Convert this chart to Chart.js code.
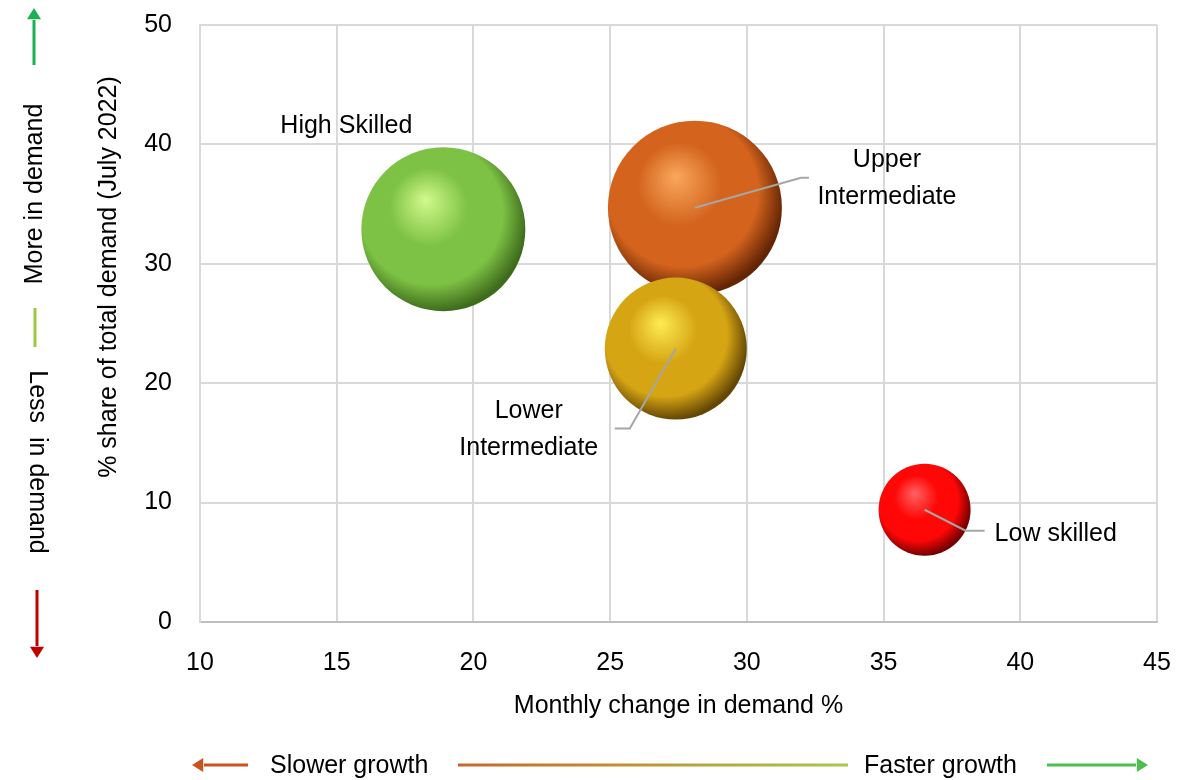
<!DOCTYPE html>
<html>
<head>
<meta charset="utf-8">
<script src="https://cdn.jsdelivr.net/npm/chart.js@4.4.1/dist/chart.umd.min.js"></script>
<style>
  body { margin: 0; background: #fff; }
  #wrap { width: 1191px; height: 780px; }
</style>
</head>
<body>
<div id="wrap"><canvas id="skillsChart" width="1191" height="780"></canvas></div>
<script>
// skill groups and their values
const skillGroups = ['High Skilled', 'Upper Intermediate', 'Lower Intermediate', 'Low skilled'];
const demandChange = [18.9, 28.1, 27.4, 36.5];   // x: monthly change in demand %
const demandShare = [32.9, 34.7, 22.9, 9.4];     // y: % share of total demand (July 2022)
const bubbleSize = [82, 87, 71, 46];             // bubble radius

const xTicks = [10, 15, 20, 25, 30, 35, 40, 45];
const yTicks = [0, 10, 20, 30, 40, 50];

const FONT = "'Liberation Sans', Arial, sans-serif";
const FSIZE = 25;

// [highlight, base, shadow]
const sphereColors = [
    ['#d2f98c', '#7dc244', '#3f6c1c'],
    ['#f9a85c', '#d4641d', '#642505'],
    ['#ffec52', '#d6a514', '#644705'],
    ['#ff6262', '#ff0707', '#740000']
];

// label placement relative to each bubble centre (px)
const labelLayout = [
    { lines: ['High Skilled'], x: -97, y: -103, align: 'center', leader: [] },
    { lines: ['Upper', 'Intermediate'], x: 192, y: -48, align: 'center', leader: [[106, -30], [114, -30]] },
    { lines: ['Lower', 'Intermediate'], x: -147, y: 63, align: 'center', leader: [[-46, 80], [-61, 80]] },
    { lines: ['Low skilled'], x: 70, y: 24, align: 'left', leader: [[41, 21], [60, 21]] }
];

function sphereFill(context) {
    const chart = context.chart;
    const i = context.dataIndex;
    const pal = sphereColors[i];
    if (context.type !== 'data' || !chart.chartArea) return pal[1];
    const cx = chart.scales.x.getPixelForValue(demandChange[i]);
    const cy = chart.scales.y.getPixelForValue(demandShare[i]);
    const r = bubbleSize[i];
    const g = chart.ctx.createRadialGradient(cx - r * 0.22, cy - r * 0.36, 0, cx - r * 0.12, cy - r * 0.14, r * 1.14);
    g.addColorStop(0, pal[0]);
    g.addColorStop(0.42, pal[1]);
    g.addColorStop(0.76, pal[1]);
    g.addColorStop(1, pal[2]);
    return g;
}

function arrowHead(ctx, x, y, dir, size, color) {
    ctx.save();
    ctx.fillStyle = color;
    ctx.translate(x, y);
    ctx.rotate(dir);
    ctx.beginPath();
    ctx.moveTo(0, 0);
    ctx.lineTo(-size * 1.6, -size);
    ctx.lineTo(-size * 1.6, size);
    ctx.closePath();
    ctx.fill();
    ctx.restore();
}

const annotations = {
    id: 'annotations',
    afterDatasetsDraw(chart) {
        const ctx = chart.ctx;
        const xs = chart.scales.x, ys = chart.scales.y;
        ctx.save();
        ctx.font = FSIZE + 'px ' + FONT;
        ctx.fillStyle = '#000';
        ctx.textBaseline = 'middle';
        skillGroups.forEach((name, i) => {
            const cx = xs.getPixelForValue(demandChange[i]);
            const cy = ys.getPixelForValue(demandShare[i]);
            const lay = labelLayout[i];
            if (lay.leader.length) {
                ctx.strokeStyle = '#a6a6a6';
                ctx.lineWidth = 2;
                ctx.beginPath();
                ctx.moveTo(cx, cy);
                lay.leader.forEach(p => ctx.lineTo(cx + p[0], cy + p[1]));
                ctx.stroke();
            }
            ctx.textAlign = lay.align;
            lay.lines.forEach((t, k) => {
                ctx.fillText(t, cx + lay.x, cy + lay.y + k * 37);
            });
        });
        ctx.restore();
    },
    afterDraw(chart) {
        const ctx = chart.ctx;
        ctx.save();
        ctx.font = FSIZE + 'px ' + FONT;
        ctx.fillStyle = '#000';
        ctx.textBaseline = 'middle';
        ctx.textAlign = 'center';

        // y axis title
        ctx.save();
        ctx.translate(109, 277);
        ctx.rotate(-Math.PI / 2);
        ctx.fillText('% share of total demand (July 2022)', 0, 0);
        ctx.restore();

        // left side: more / less in demand
        ctx.save();
        ctx.translate(35, 194);
        ctx.rotate(-Math.PI / 2);
        ctx.fillText('More in demand', 0, 0);
        ctx.restore();
        ctx.save();
        ctx.translate(37, 462);
        ctx.rotate(Math.PI / 2);
        ctx.fillText('Less  in demand', 0, 0);
        ctx.restore();

        ctx.lineWidth = 3;
        ctx.strokeStyle = '#1db050';
        ctx.beginPath(); ctx.moveTo(34, 65); ctx.lineTo(34, 20); ctx.stroke();
        arrowHead(ctx, 34, 8, -Math.PI / 2, 7, '#1db050');
        ctx.strokeStyle = '#9cc843';
        ctx.beginPath(); ctx.moveTo(35, 308); ctx.lineTo(35, 347); ctx.stroke();
        ctx.strokeStyle = '#c00000';
        ctx.beginPath(); ctx.moveTo(37, 590); ctx.lineTo(37, 646); ctx.stroke();
        arrowHead(ctx, 37, 658, Math.PI / 2, 7, '#c00000');

        // bottom: slower / faster growth
        const by = 765;
        ctx.strokeStyle = '#c9521f';
        ctx.beginPath(); ctx.moveTo(248, by); ctx.lineTo(204, by); ctx.stroke();
        arrowHead(ctx, 192, by, Math.PI, 7, '#c9521f');
        const lg = ctx.createLinearGradient(458, 0, 848, 0);
        lg.addColorStop(0, '#c9652a');
        lg.addColorStop(0.5, '#bb9a34');
        lg.addColorStop(1, '#a8c84c');
        ctx.strokeStyle = lg;
        ctx.beginPath(); ctx.moveTo(458, by); ctx.lineTo(848, by); ctx.stroke();
        ctx.strokeStyle = '#4fbe4f';
        ctx.beginPath(); ctx.moveTo(1047, by); ctx.lineTo(1136, by); ctx.stroke();
        arrowHead(ctx, 1148, by, 0, 7, '#4fbe4f');

        ctx.textAlign = 'left';
        ctx.fillText('Slower growth', 270, by + 1);
        ctx.fillText('Faster growth', 864, by + 1);
        ctx.restore();
    }
};

const ctx = document.getElementById('skillsChart').getContext('2d');
new Chart(ctx, {
    type: 'bubble',
    data: {
        datasets: [{
            label: 'Skill demand',
            data: skillGroups.map((g, i) => ({ x: demandChange[i], y: demandShare[i], r: bubbleSize[i] })),
            backgroundColor: sphereFill,
            borderWidth: 0,
            hoverBorderWidth: 0
        }]
    },
    options: {
        responsive: false,
        animation: false,
        clip: false,
        layout: { autoPadding: false, padding: { left: 0, top: 25, right: 34, bottom: 0 } },
        plugins: { legend: { display: false }, tooltip: { enabled: false } },
        scales: {
            x: {
                type: 'linear',
                min: 10, max: 45,
                afterBuildTicks: s => { s.ticks = xTicks.map(v => ({ value: v })); },
                afterFit: s => { s.height = 158; s.paddingLeft = 0; s.paddingRight = 0; },
                grid: { color: '#d9d9d9', lineWidth: 2, drawTicks: false },
                border: { color: '#bfbfbf', width: 2 },
                ticks: { font: { family: FONT, size: FSIZE }, color: '#000', padding: 26 },
                title: {
                    display: true,
                    text: 'Monthly change in demand %',
                    font: { family: FONT, size: FSIZE },
                    color: '#000',
                    padding: { top: 0, bottom: 59 }
                }
            },
            y: {
                type: 'linear',
                min: 0, max: 50,
                afterBuildTicks: s => { s.ticks = yTicks.map(v => ({ value: v })); },
                afterFit: s => { s.width = 200; s.paddingTop = 0; s.paddingBottom = 0; },
                grid: { color: '#d9d9d9', lineWidth: 2, drawTicks: false },
                border: { color: '#d9d9d9', width: 2 },
                ticks: { font: { family: FONT, size: FSIZE }, color: '#000', padding: 28 }
            }
        }
    },
    plugins: [annotations]
});
</script>
</body>
</html>
